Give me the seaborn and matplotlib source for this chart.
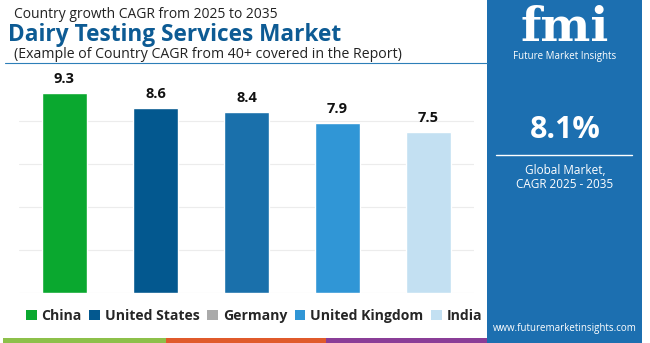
import matplotlib
matplotlib.use("Agg")
import matplotlib.pyplot as plt
import seaborn as sns
import pandas as pd
from matplotlib.patches import Rectangle, Patch
from matplotlib.lines import Line2D

countries = ["China", "United States", "Germany", "United Kingdom", "India"]
cagr = [9.3, 8.6, 8.4, 7.9, 7.5]
bar_colors = ["#0aa82f", "#03588f", "#1a70ab", "#3096d6", "#c3e0f2"]
legend_colors = ["#0aa82f", "#03588f", "#aaaaaa", "#3096d6", "#c3e0f2"]
global_cagr = "8.1%"

sns.set_theme(style="white")
plt.rcParams['font.family'] = ['Open Sans', 'DejaVu Sans']

df = pd.DataFrame({"country": countries, "cagr": cagr})

fig = plt.figure(figsize=(6.5, 3.43), dpi=100)
fig.patch.set_facecolor("white")

ax = fig.add_axes([19/650, 1-293/343, 455/650, 215/343])
sns.barplot(data=df, x="country", y="cagr", hue="country", palette=bar_colors,
            width=0.5, legend=False, ax=ax, saturation=1)
ax.set_ylim(0, 10)
ax.set_xlim(-0.5, 4.5)
ax.set_yticks([0, 2, 4, 6, 8])
ax.grid(axis="y", color="#ececec", linewidth=0.8)
ax.set_axisbelow(True)
ax.set_xticks([])
ax.set_yticklabels([])
ax.tick_params(left=False, bottom=False)
ax.set_xlabel("")
ax.set_ylabel("")
for s in ax.spines.values():
    s.set_visible(False)
for p, v in zip(ax.patches, cagr):
    ax.annotate(f"{v}", (p.get_x() + p.get_width()/2, p.get_height()),
                xytext=(0, 5), textcoords="offset points", ha="center", va="bottom",
                fontsize=10.5, fontweight="bold", color="#111111")

# Titles
fig.text(14/650, 1-15/343, "Country growth CAGR from 2025 to 2035", fontsize=10,
         color="#222222", va="center", ha="left")
fig.text(8/650, 1-35/343, "Dairy Testing Services Market", fontsize=16.3,
         fontweight="bold", color="#0d5b94", va="center", ha="left")
fig.text(14/650, 1-54/343, "(Example of Country CAGR from 40+ covered in the Report)",
         fontsize=10.2, color="#222222", va="center", ha="left")
fig.add_artist(Line2D([5/650, 487/650], [1-63/343, 1-63/343], color="#2d7fb8",
                      linewidth=0.8, transform=fig.transFigure))

# Legend
handles = [Patch(facecolor=c, edgecolor="none") for c in legend_colors]
fig.legend(handles, countries, loc="center", bbox_to_anchor=(254/650, 1-316/343),
           ncol=5, frameon=False, handlelength=0.75, handleheight=0.75,
           handletextpad=0.35, columnspacing=0.55,
           prop={"weight": "bold", "size": 10.1, "family": ["Open Sans", "DejaVu Sans"]})

# Bottom stripes
for x0, x1, c in [(3, 166, "#8dc04a"), (166, 326, "#e05a2b"), (326, 488, "#8a3d97")]:
    fig.add_artist(Rectangle((x0/650, 0), (x1-x0)/650, 5/343, color=c,
                             transform=fig.transFigure, linewidth=0))

# Right panel
panel_blue = "#1c6fb0"
fig.add_artist(Rectangle((487/650, 0), (642-487)/650, 1, color=panel_blue,
                         transform=fig.transFigure, linewidth=0))
cx = 565/650
fig.text(cx, 1-41/343, "fmi", fontsize=34, fontweight="bold", color="white",
         ha="center", va="baseline", family=["DejaVu Serif"])
fig.text(cx, 1-57/343, "Future Market Insights", fontsize=7, color="white",
         ha="center", va="center")
fig.text(cx, 1-130/343, global_cagr, fontsize=22, fontweight="bold", color="white",
         ha="center", va="center")
fig.add_artist(Line2D([496/650, 632/650], [1-155/343, 1-155/343], color="white",
                      linewidth=1, transform=fig.transFigure))
fig.text(cx, 1-170/343, "Global Market,", fontsize=8.5, color="white",
         ha="center", va="center")
fig.text(cx, 1-184/343, "CAGR 2025 - 2035", fontsize=8.5, color="white",
         ha="center", va="center")
fig.text(cx, 1-328/343, "www.futuremarketinsights.com", fontsize=7, color="white",
         ha="center", va="center")

fig.savefig("out.png", dpi=100)
